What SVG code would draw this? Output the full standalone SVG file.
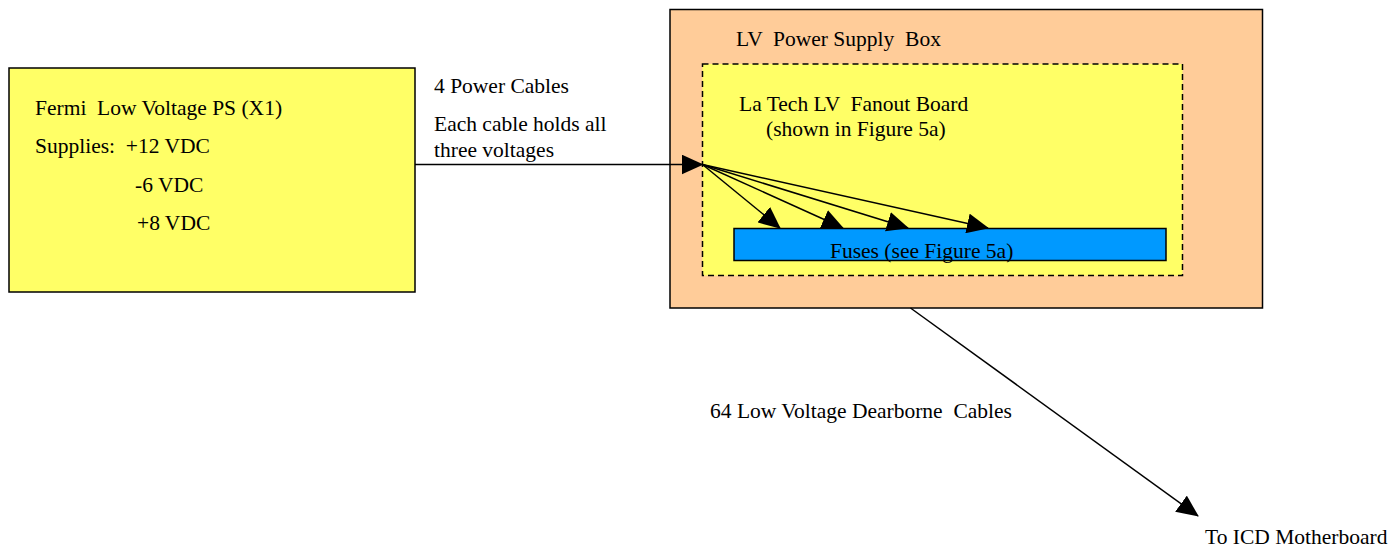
<svg xmlns="http://www.w3.org/2000/svg" width="1395" height="551" viewBox="0 0 1395 551">
  <defs>
    <style>
      text { font-family: "Liberation Serif", "Times New Roman", serif; font-size: 21.5px; fill: #000; }
      .box { stroke: #000; stroke-width: 1.5; }
      .conn { stroke: #000; stroke-width: 1.5; fill: none; }
    </style>
    <marker id="ah" markerUnits="userSpaceOnUse" markerWidth="22" markerHeight="20" viewBox="0 0 22 20" refX="21" refY="10" orient="auto">
      <path d="M0,0 L22,10 L0,20 Z" fill="#000"/>
    </marker>
  </defs>
  <rect width="1395" height="551" fill="#fff"/>

  <g id="fermi-ps">
    <rect class="box" x="9" y="68" width="406" height="224" fill="#FFFF66"/>
    <text x="35" y="115" xml:space="preserve">Fermi  Low Voltage PS (X1)</text>
    <text x="35" y="153" xml:space="preserve">Supplies:  +12 VDC</text>
    <text x="135" y="192">-6 VDC</text>
    <text x="137" y="230">+8 VDC</text>
  </g>

  <g id="lv-box">
    <rect class="box" x="670" y="9.5" width="592.5" height="298.5" fill="#FFCC99"/>
    <text x="736" y="46" xml:space="preserve">LV  Power Supply  Box</text>
  </g>

  <g id="fanout-board">
    <rect x="702.5" y="64" width="480" height="211.5" fill="#FFFF66" stroke="#000" stroke-width="1.5" stroke-dasharray="6,4"/>
    <text x="739" y="111" xml:space="preserve">La Tech LV  Fanout Board</text>
    <text x="766" y="136">(shown in Figure 5a)</text>
  </g>

  <g id="fuses">
    <rect class="box" x="734" y="228.5" width="432" height="32" fill="#0099FF"/>
    <text x="830" y="258">Fuses (see Figure 5a)</text>
  </g>

  <g id="labels">
    <text x="434" y="93">4 Power Cables</text>
    <text x="434" y="131">Each cable holds all</text>
    <text x="434" y="157">three voltages</text>
    <text x="710" y="418" xml:space="preserve">64 Low Voltage Dearborne  Cables</text>
    <text x="1205" y="544">To ICD Motherboard</text>
  </g>

  <g id="connectors">
    <line class="conn" x1="415" y1="164.5" x2="702.5" y2="164.5" marker-end="url(#ah)"/>
    <line class="conn" x1="702.5" y1="164.5" x2="780" y2="228" marker-end="url(#ah)"/>
    <line class="conn" x1="702.5" y1="164.5" x2="843" y2="228" marker-end="url(#ah)"/>
    <line class="conn" x1="702.5" y1="164.5" x2="908" y2="228" marker-end="url(#ah)"/>
    <line class="conn" x1="702.5" y1="164.5" x2="988" y2="228" marker-end="url(#ah)"/>
    <line class="conn" x1="910.5" y1="308" x2="1198" y2="516" marker-end="url(#ah)"/>
  </g>
</svg>
